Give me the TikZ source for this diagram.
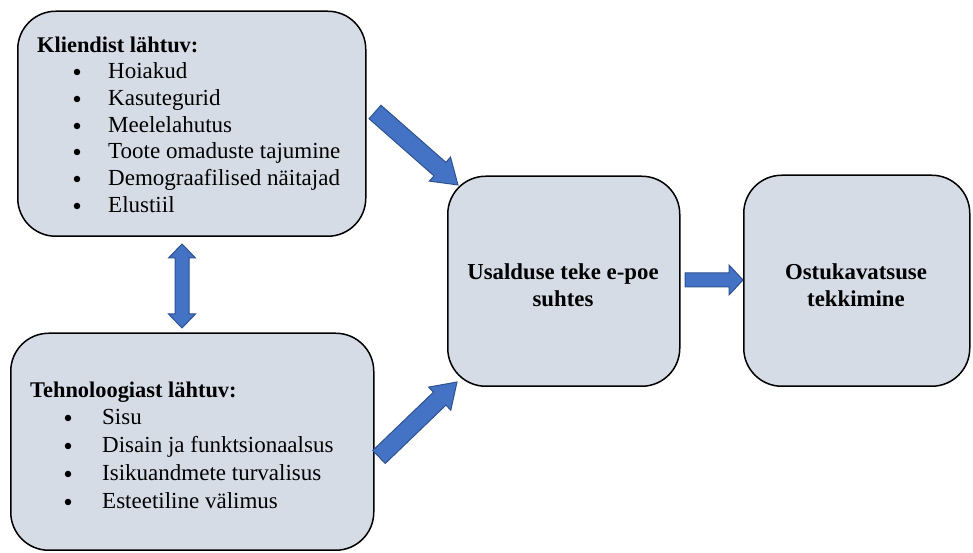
\documentclass[tikz,border=0pt]{standalone}
\usepackage{fontspec}
\setmainfont{Liberation Serif}
\usetikzlibrary{calc}
\definecolor{boxfill}{HTML}{D6DCE5}
\definecolor{arrowfill}{HTML}{4472C4}
\definecolor{arrowline}{HTML}{2F528F}
\newcommand\blkarrow[5]{% tail, tip, shaft half width, head half width, head length
  \path let \p1=(#1), \p2=(#2) in \pgfextra{%
    \pgfmathsetmacro\arrang{atan2(\y2-\y1,\x2-\x1)}%
    \pgfmathsetmacro\arrlen{veclen(\x2-\x1,\y2-\y1)}%
    \xdef\arrang{\arrang}\xdef\arrlen{\arrlen}\xdef\arrx{\x1}\xdef\arry{\y1}};
  \begin{scope}[shift={(\arrx,\arry)}, rotate=\arrang]
    \draw[barrow] (0,-#3) -- ({\arrlen-#5},-#3) -- ({\arrlen-#5},-#4) -- (\arrlen,0)
      -- ({\arrlen-#5},#4) -- ({\arrlen-#5},#3) -- (0,#3) -- cycle;
  \end{scope}}
\newcommand\dblarrow[5]{% end A, end B, shaft half width, head half width, head length
  \path let \p1=(#1), \p2=(#2) in \pgfextra{%
    \pgfmathsetmacro\arrang{atan2(\y2-\y1,\x2-\x1)}%
    \pgfmathsetmacro\arrlen{veclen(\x2-\x1,\y2-\y1)}%
    \xdef\arrang{\arrang}\xdef\arrlen{\arrlen}\xdef\arrx{\x1}\xdef\arry{\y1}};
  \begin{scope}[shift={(\arrx,\arry)}, rotate=\arrang]
    \draw[barrow] (0,0) -- (#5,#4) -- (#5,#3) -- ({\arrlen-#5},#3) -- ({\arrlen-#5},#4)
      -- (\arrlen,0) -- ({\arrlen-#5},-#4) -- ({\arrlen-#5},-#3) -- (#5,-#3) -- (#5,-#4) -- cycle;
  \end{scope}}
\tikzset{
  box/.style={draw=black, line width=1.5pt, fill=boxfill, rounded corners=38pt, anchor=south west, inner sep=0pt},
  barrow/.style={fill=arrowfill, draw=arrowline, line width=1pt, line join=miter},
  txt/.style={font=\fontsize{23}{27.5}\selectfont, inner sep=0pt, anchor=base west},
  headtxt/.style={txt, font=\fontsize{22.4}{27.5}\selectfont\bfseries},
  ctxt/.style={txt, anchor=base, font=\fontsize{22.8}{27.5}\selectfont\bfseries},
  bul/.style={circle, fill=black, inner sep=0pt, minimum size=6.5pt}
}
\begin{document}
\begin{tikzpicture}[x=1pt, y=1pt]
\useasboundingbox (0,0) rectangle (973,553);
% boxes
\node[box, minimum width=348pt, minimum height=225pt] (b1) at (17,316) {};
\node[box, minimum width=363pt, minimum height=217pt] (b2) at (10,2) {};
\node[box, minimum width=232pt, minimum height=210pt] (b3) at (447,166) {};
\node[box, minimum width=226pt, minimum height=211pt] (b4) at (743,166) {};
% box 1 text
\node[headtxt] (h1) at (37,500) {Kliendist lähtuv:};
\foreach \y/\t [count=\i] in {474/Hoiakud, 447/Kasutegurid, 420/Meelelahutus, 394/Toote omaduste tajumine, 367/Demograafilised näitajad, 340/Elustiil} {
  \node[bul] (ba\i) at (77,\y+7) {};
  \node[txt] (ta\i) at (108,\y) {\t};
}
% box 2 text
\node[headtxt] (h2) at (30,155) {Tehnoloogiast lähtuv:};
\foreach \y/\t [count=\i] in {128/Sisu, 100/Disain ja funktsionaalsus, 72/Isikuandmete turvalisus, 44/Esteetiline välimus} {
  \node[bul] (bb\i) at (68,\y+7) {};
  \node[txt] (tb\i) at (102,\y) {\t};
}
% box 3 and 4 text
\node[ctxt] (t3a) at (563,273) {Usalduse teke e-poe};
\node[ctxt] (t3b) at (563,246) {suhtes};
\node[ctxt] (t4a) at (856,273) {Ostukavatsuse};
\node[ctxt] (t4b) at (856,246) {tekkimine};
% arrow end points
\coordinate (a1s) at (375,441);
\coordinate (a1e) at (458,368);
\coordinate (a2s) at (379,96);
\coordinate (a2e) at (457,171);
\coordinate (a3s) at (685,273);
\coordinate (a3e) at (743,273);
\coordinate (a4s) at (182,225);
\coordinate (a4e) at (182,309);
\blkarrow{a1s}{a1e}{9}{16}{24}
\blkarrow{a2s}{a2e}{9}{16}{24}
\blkarrow{a3s}{a3e}{7}{15}{14}
\dblarrow{a4s}{a4e}{7}{13.5}{14}
\end{tikzpicture}
\end{document}
